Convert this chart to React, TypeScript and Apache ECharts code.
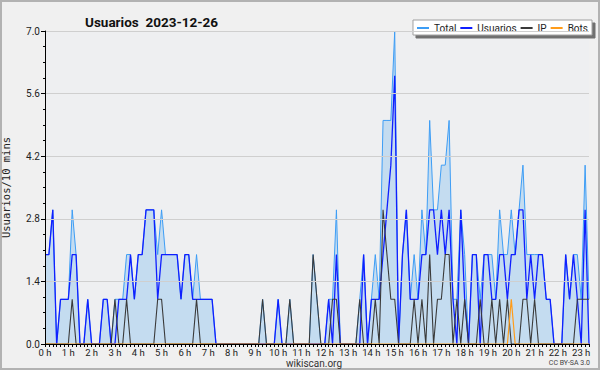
import React, { useEffect, useRef } from "react";
import * as echarts from "echarts";

// 10-minute slots from 00:00 (one point per slot)
const HOUR_LABELS = [
  "0 h", "1 h", "2 h", "3 h", "4 h", "5 h", "6 h", "7 h", "8 h", "9 h", "10 h", "11 h",
  "12 h", "13 h", "14 h", "15 h", "16 h", "17 h", "18 h", "19 h", "20 h", "21 h", "22 h", "23 h",
];

const TOTAL = [
  2, 2, 3, 0, 1, 1, 1, 3, 2, 0,
  0, 1, 0, 0, 0, 1, 1, 0, 1, 1,
  1, 2, 2, 1, 2, 2, 3, 3, 3, 2,
  3, 2, 2, 2, 2, 1, 2, 2, 1, 2,
  1, 1, 1, 1, 0, 0, 0, 0, 0, 0,
  0, 0, 0, 0, 0, 0, 1, 0, 0, 0,
  1, 0, 0, 1, 0, 0, 0, 0, 0, 2,
  1, 0, 0, 1, 1, 3, 0, 0, 0, 0,
  0, 1, 2, 0, 1, 2, 1, 5, 5, 5,
  7, 0, 2, 3, 1, 2, 1, 3, 2, 5,
  3, 3, 4, 4, 5, 1, 1, 3, 2, 0,
  2, 2, 1, 2, 2, 2, 1, 3, 2, 2,
  3, 2, 3, 4, 2, 2, 2, 2, 2, 1,
  1, 0, 0, 0, 2, 1, 2, 2, 1, 4,
  1,
];

const USUARIOS = [
  2, 2, 3, 0, 1, 1, 1, 2, 2, 0,
  0, 1, 0, 0, 0, 1, 1, 0, 0, 1,
  1, 1, 2, 1, 2, 2, 3, 3, 3, 1,
  2, 2, 2, 2, 2, 1, 2, 2, 1, 1,
  1, 1, 1, 1, 0, 0, 0, 0, 0, 0,
  0, 0, 0, 0, 0, 0, 0, 0, 0, 0,
  1, 0, 0, 0, 0, 0, 0, 0, 0, 0,
  0, 0, 0, 1, 0, 2, 0, 0, 0, 0,
  0, 0, 2, 0, 1, 1, 1, 2, 3, 4,
  6, 0, 2, 3, 1, 1, 1, 2, 2, 3,
  3, 2, 3, 2, 3, 1, 0, 3, 1, 0,
  2, 2, 0, 2, 2, 1, 1, 2, 2, 1,
  2, 2, 3, 3, 1, 2, 1, 2, 2, 1,
  1, 0, 0, 0, 2, 1, 2, 1, 0, 3,
  0,
];

const IP = [
  0, 0, 0, 0, 0, 0, 0, 1, 0, 0,
  0, 0, 0, 0, 0, 0, 0, 0, 1, 0,
  0, 1, 0, 0, 0, 0, 0, 0, 0, 1,
  1, 0, 0, 0, 0, 0, 0, 0, 0, 1,
  0, 0, 0, 0, 0, 0, 0, 0, 0, 0,
  0, 0, 0, 0, 0, 0, 1, 0, 0, 0,
  0, 0, 0, 1, 0, 0, 0, 0, 0, 2,
  1, 0, 0, 0, 1, 1, 0, 0, 0, 0,
  0, 1, 0, 0, 0, 1, 0, 3, 2, 1,
  1, 0, 0, 0, 0, 1, 0, 1, 0, 2,
  0, 1, 1, 2, 2, 0, 1, 0, 1, 0,
  0, 0, 1, 0, 0, 1, 0, 1, 0, 1,
  0, 0, 0, 1, 1, 0, 1, 0, 0, 0,
  0, 0, 0, 0, 0, 0, 0, 1, 1, 1,
  1,
];

const BOTS = [
  0, 0, 0, 0, 0, 0, 0, 0, 0, 0,
  0, 0, 0, 0, 0, 0, 0, 0, 0, 0,
  0, 0, 0, 0, 0, 0, 0, 0, 0, 0,
  0, 0, 0, 0, 0, 0, 0, 0, 0, 0,
  0, 0, 0, 0, 0, 0, 0, 0, 0, 0,
  0, 0, 0, 0, 0, 0, 0, 0, 0, 0,
  0, 0, 0, 0, 0, 0, 0, 0, 0, 0,
  0, 0, 0, 0, 0, 0, 0, 0, 0, 0,
  0, 0, 0, 0, 0, 0, 0, 0, 0, 0,
  0, 0, 0, 0, 0, 0, 0, 0, 0, 0,
  0, 0, 0, 0, 0, 0, 0, 0, 0, 0,
  0, 0, 0, 0, 0, 0, 0, 0, 0, 0,
  1, 0, 0, 0, 0, 0, 0, 0, 0, 0,
  0, 0, 0, 0, 0, 0, 0, 0, 0, 0,
  0,
];

const CATEGORIES = TOTAL.map((_, i) => {
  const h = Math.floor(i / 6);
  const m = (i % 6) * 10;
  return `${h}:${m < 10 ? "0" + m : m}`;
});

const NARROW = "'Liberation Sans Narrow', 'Roboto', sans-serif";

export default function App() {
  const ref = useRef<HTMLDivElement>(null);

  useEffect(() => {
    if (!ref.current) return;
    const chart = echarts.init(ref.current, undefined, { renderer: "svg" });
    chart.setOption({
      animation: false,
      backgroundColor: "#f0f0f0",
      title: {
        text: "Usuarios  2023-12-26",
        left: 80,
        top: 10,
        textStyle: { fontSize: 13.5, fontWeight: "bold", color: "#111", fontFamily: NARROW },
      },
      legend: {
        right: 8,
        top: 20,
        itemWidth: 12,
        itemHeight: 2,
        itemGap: 4,
        icon: "rect",
        padding: [3, 4, 2, 4],
        backgroundColor: "#ffffff",
        borderColor: "#a0a0a0",
        borderWidth: 1,
        shadowColor: "#707070",
        shadowOffsetX: 3,
        shadowOffsetY: 3,
        shadowBlur: 0,
        textStyle: { fontSize: 10, color: "#222", fontFamily: NARROW },
        selectedMode: false,
        data: ["Total", "Usuarios", "IP", "Bots"],
      },
      grid: {
        left: 45,
        right: 11,
        top: 31,
        bottom: 26,
        show: true,
        backgroundColor: "#eeeff1",
        borderWidth: 0,
        outerBoundsMode: "none",
        containLabel: false,
      },
      xAxis: {
        type: "category",
        data: CATEGORIES,
        boundaryGap: false,
        z: 10,
        axisLine: { lineStyle: { color: "#000", width: 1 } },
        axisTick: { show: true, interval: 0, length: 3, lineStyle: { color: "#000" } },
        axisLabel: {
          interval: 5,
          margin: 3,
          fontSize: 9.5,
          color: "#222",
          fontFamily: NARROW,
          hideOverlap: false,
          formatter: (_v: string, idx: number) => HOUR_LABELS[idx / 6] ?? "",
        },
        splitLine: { show: false },
      },
      yAxis: {
        type: "value",
        min: 0,
        max: 7,
        interval: 1.4,
        z: 10,
        name: "Usuarios/10 mins",
        nameLocation: "middle",
        nameRotate: 90,
        nameGap: 34,
        nameTextStyle: { fontSize: 10.5, color: "#222", fontFamily: "'DejaVu Sans Mono', monospace" },
        axisLine: { show: true, lineStyle: { color: "#000", width: 1 } },
        axisTick: { show: true, length: 4, lineStyle: { color: "#000" } },
        minorTick: { show: true, splitNumber: 4, length: 2, lineStyle: { color: "#000" } },
        axisLabel: {
          fontSize: 10,
          color: "#222",
          margin: 5,
          fontFamily: NARROW,
          formatter: (v: number) => v.toFixed(1),
        },
        splitLine: { show: true, lineStyle: { color: "#cfcfcf", width: 1 } },
      },
      series: [
        {
          name: "Total",
          type: "line",
          data: TOTAL,
          showSymbol: false,
          lineStyle: { color: "#3d9df5", width: 1 },
          itemStyle: { color: "#3d9df5" },
          areaStyle: { color: "#c4dcf0", opacity: 1 },
        },
        {
          name: "Usuarios",
          type: "line",
          data: USUARIOS,
          showSymbol: false,
          lineStyle: { color: "#0f1fff", width: 1.3 },
          itemStyle: { color: "#0f1fff" },
        },
        {
          name: "IP",
          type: "line",
          data: IP,
          showSymbol: false,
          lineStyle: { color: "#3a3a3a", width: 1.1 },
          itemStyle: { color: "#3a3a3a" },
        },
        {
          name: "Bots",
          type: "line",
          data: BOTS,
          showSymbol: false,
          lineStyle: { color: "#ff9c1a", width: 1.2 },
          itemStyle: { color: "#ff9c1a" },
        },
      ],
      graphic: [
        {
          type: "rect",
          shape: { x: 1, y: 1, width: 598, height: 368 },
          style: { fill: "none", stroke: "#b2b2b2", lineWidth: 2 },
          silent: true,
        },
        {
          type: "text",
          x: 314,
          y: 363,
          style: {
            text: "wikiscan.org",
            fontSize: 10,
            fill: "#333",
            fontFamily: NARROW,
            textAlign: "center",
            textVerticalAlign: "middle",
          },
        },
        {
          type: "text",
          x: 590,
          y: 363,
          style: {
            text: "CC BY-SA 3.0",
            fontSize: 7,
            fill: "#444",
            fontFamily: NARROW,
            textAlign: "right",
            textVerticalAlign: "middle",
          },
        },
      ],
    });
    return () => chart.dispose();
  }, []);

  return (
    <div
      ref={ref}
      style={{ position: "fixed", left: 0, top: 0, width: 600, height: 370 }}
    />
  );
}
